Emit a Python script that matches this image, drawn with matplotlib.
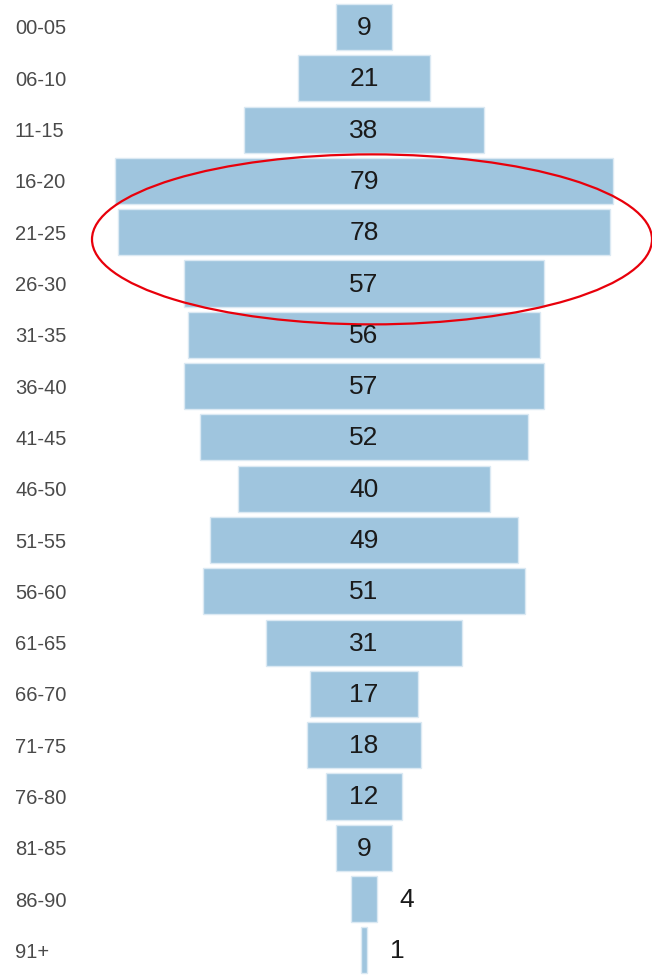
import matplotlib
matplotlib.use("Agg")
import matplotlib.pyplot as plt
from matplotlib.patches import Ellipse

# age groups and counts
age_groups = ['00-05', '06-10', '11-15', '16-20', '21-25', '26-30', '31-35', '36-40',
              '41-45', '46-50', '51-55', '56-60', '61-65', '66-70', '71-75', '76-80',
              '81-85', '86-90', '91+']
counts = [9, 21, 38, 79, 78, 57, 56, 57, 52, 40, 49, 51, 31, 17, 18, 12, 9, 4, 1]

plt.rcParams['font.family'] = ['Liberation Sans', 'DejaVu Sans']

W, H, dpi = 652, 978, 100
fig = plt.figure(figsize=(W / dpi, H / dpi), dpi=dpi)
ax = fig.add_axes([0, 0, 1, 1])

# pixel layout of the reference
px_per_unit = 6.3
center_px = 364
row_pitch = 51.3
first_row_px = 28

ax.set_xlim(-center_px / px_per_unit, (W - center_px) / px_per_unit)
ax.set_ylim((H - first_row_px) / row_pitch, -first_row_px / row_pitch)
ax.axis('off')

rows = list(range(len(counts)))
lefts = [-c / 2 for c in counts]
ax.barh(rows, counts, left=lefts, height=0.9, color='#9fc5de',
        edgecolor='#dbe9f3', linewidth=1)

for i, (lab, c) in enumerate(zip(age_groups, counts)):
    fig.text(15 / W, 1 - (first_row_px + 1 + i * row_pitch) / H, lab,
             ha='left', va='center', fontsize=14.5, color='#4a4a4a')
    if c >= 9:
        ax.text(0, i, str(c), ha='center', va='center', fontsize=19, color='#1a1a1a')
    else:
        ax.text(c / 2 + 23 / px_per_unit, i, str(c), ha='left', va='center',
                fontsize=19, color='#1a1a1a')

# red highlight ring around the 16-30 groups
ring = Ellipse((8 / px_per_unit, 4.14), 560 / px_per_unit, 170 / row_pitch,
               fill=False, edgecolor='#e8000b', linewidth=1.6, clip_on=False)
ax.add_patch(ring)

fig.savefig('out.png', dpi=dpi)
